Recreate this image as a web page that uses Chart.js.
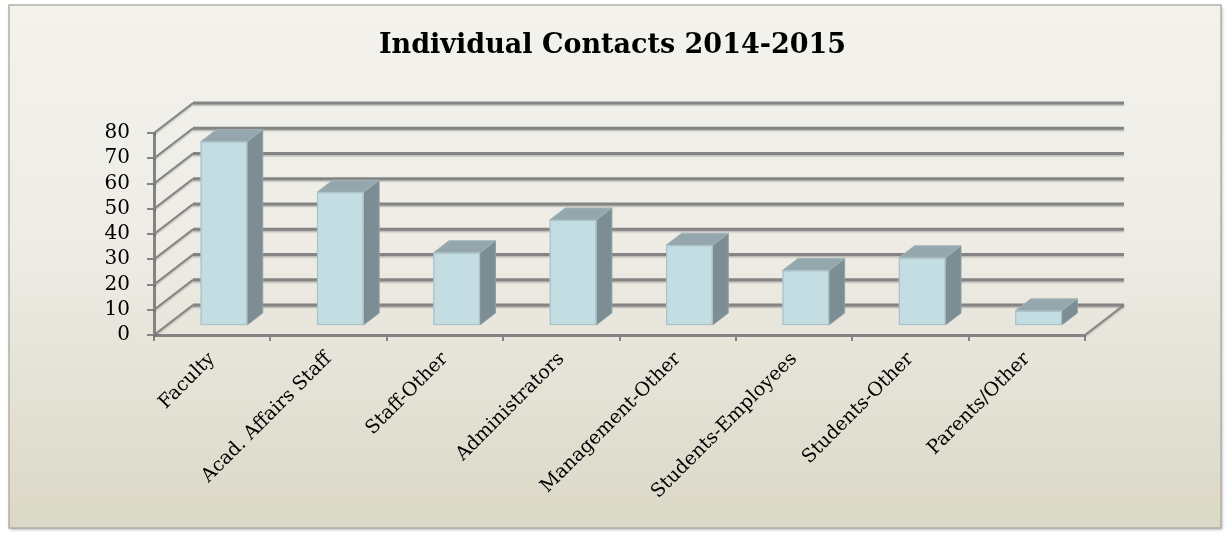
<!DOCTYPE html>
<html>
<head>
<meta charset="utf-8">
<script src="https://cdn.jsdelivr.net/npm/chart.js@4.4.1/dist/chart.umd.min.js"></script>
<style>
  html, body { margin: 0; padding: 0; background: #ffffff; }
  canvas { display: block; }
</style>
</head>
<body>
<canvas id="c" width="1225" height="533" style="width:1225px;height:533px"></canvas>
<script>
const categories = ["Faculty", "Acad. Affairs Staff", "Staff-Other", "Administrators", "Management-Other", "Students-Employees", "Students-Other", "Parents/Other"];
const contacts = [73, 53, 29, 42, 32, 22, 27, 6];
const yMin = 0;
const yMax = 80;
const yStep = 10;
const chartTitle = "Individual Contacts 2014-2015";

// 3D depth vector (px) and bar depth fractions
const DEPTH_X = 39, DEPTH_Y = -30;
const BAR_FRONT = 0.3, BAR_BACK = 0.7;
const GRID_COLOR = '#848484';

const framePlugin = {
  id: 'frame',
  beforeDraw(chart) {
    const ctx = chart.ctx;
    ctx.save();
    ctx.fillStyle = '#ffffff';
    ctx.fillRect(0, 0, chart.width, chart.height);
    const x0 = 9, y0 = 5, w = 1212, h = 523;
    ctx.shadowColor = 'rgba(0,0,0,0.35)';
    ctx.shadowBlur = 3;
    ctx.shadowOffsetX = 1;
    ctx.shadowOffsetY = 1.5;
    const g = ctx.createLinearGradient(0, y0, 0, y0 + h);
    g.addColorStop(0, '#f3f2ed');
    g.addColorStop(0.45, '#eeece5');
    g.addColorStop(1, '#dbd8c7');
    ctx.fillStyle = g;
    ctx.fillRect(x0, y0, w, h);
    ctx.shadowColor = 'transparent';
    ctx.strokeStyle = '#b3b1a5';
    ctx.lineWidth = 1.5;
    ctx.strokeRect(x0, y0, w, h);
    ctx.restore();
  }
};

const wallPlugin = {
  id: 'walls',
  beforeDatasetsDraw(chart) {
    const ctx = chart.ctx;
    const ys = chart.scales.y;
    const ca = chart.chartArea;
    ctx.save();
    ctx.lineCap = 'butt';
    ctx.shadowColor = 'rgba(0,0,0,0.22)';
    ctx.shadowBlur = 1.5;
    ctx.shadowOffsetY = 1.5;
    ctx.strokeStyle = GRID_COLOR;
    for (let v = yMin; v <= yMax; v += yStep) {
      const py = ys.getPixelForValue(v);
      ctx.lineWidth = 2;
      ctx.beginPath();
      ctx.moveTo(ca.left, py);
      ctx.lineTo(ca.left + DEPTH_X, py + DEPTH_Y);
      ctx.stroke();
      ctx.lineWidth = 3;
      ctx.beginPath();
      ctx.moveTo(ca.left + DEPTH_X, py + DEPTH_Y);
      ctx.lineTo(ca.right + DEPTH_X, py + DEPTH_Y);
      ctx.stroke();
    }
    const pb = ys.getPixelForValue(yMin);
    ctx.lineWidth = 2;
    ctx.beginPath();
    ctx.moveTo(ca.right, pb);
    ctx.lineTo(ca.right + DEPTH_X, pb + DEPTH_Y);
    ctx.stroke();
    ctx.restore();
  }
};

const bar3dPlugin = {
  id: 'bar3d',
  afterDatasetsDraw(chart) {
    const ctx = chart.ctx;
    const meta = chart.getDatasetMeta(0);
    const ox = DEPTH_X * BAR_FRONT, oy = DEPTH_Y * BAR_FRONT;
    const dx = DEPTH_X * (BAR_BACK - BAR_FRONT), dy = DEPTH_Y * (BAR_BACK - BAR_FRONT);
    ctx.save();
    meta.data.forEach(bar => {
      const p = bar.getProps(['x', 'y', 'base', 'width'], true);
      const l = p.x - p.width / 2 + ox, r = p.x + p.width / 2 + ox;
      const t = p.y + oy, b = p.base + oy;
      ctx.fillStyle = '#7c8d93';
      ctx.beginPath();
      ctx.moveTo(r, t); ctx.lineTo(r + dx, t + dy); ctx.lineTo(r + dx, b + dy); ctx.lineTo(r, b);
      ctx.closePath(); ctx.fill();
      ctx.strokeStyle = '#8fa0a5'; ctx.lineWidth = 1; ctx.stroke();
      ctx.fillStyle = '#94a7ad';
      ctx.beginPath();
      ctx.moveTo(l, t); ctx.lineTo(l + dx, t + dy); ctx.lineTo(r + dx, t + dy); ctx.lineTo(r, t);
      ctx.closePath(); ctx.fill();
      ctx.strokeStyle = '#a3b3b8'; ctx.stroke();
      ctx.fillStyle = '#c4dde3';
      ctx.fillRect(l, t, r - l, b - t);
      ctx.strokeStyle = '#a9c1c7'; ctx.lineWidth = 1.2;
      ctx.strokeRect(l + 0.5, t + 0.5, r - l - 1, b - t - 1);
    });
    ctx.restore();
  }
};

new Chart(document.getElementById('c'), {
  type: 'bar',
  data: {
    labels: categories,
    datasets: [{
      data: contacts,
      backgroundColor: 'rgba(0,0,0,0)',
      borderWidth: 0,
      categoryPercentage: 1.0,
      barPercentage: 0.4
    }]
  },
  options: {
    responsive: false,
    devicePixelRatio: 1,
    animation: false,
    layout: { padding: { left: 0, right: 0, top: 20, bottom: 28 } },
    plugins: {
      legend: { display: false },
      tooltip: { enabled: false },
      title: {
        display: true,
        text: chartTitle,
        color: '#000000',
        font: { family: 'DejaVu Serif', size: 27, weight: 'bold' },
        padding: { top: 9.3, bottom: 71.3 }
      }
    },
    scales: {
      x: {
        grid: { drawOnChartArea: false, drawTicks: true, tickLength: 6, color: GRID_COLOR, lineWidth: 2, offset: true },
        border: { display: true, color: GRID_COLOR, width: 3 },
        ticks: {
          color: '#000000',
          font: { family: 'DejaVu Serif', size: 19 },
          minRotation: 45,
          maxRotation: 45,
          autoSkip: false,
          padding: 7
        },
        afterFit(scale) { scale.height = 170; }
      },
      y: {
        min: yMin,
        max: yMax,
        grid: { drawOnChartArea: false, drawTicks: true, tickLength: 7, color: GRID_COLOR, lineWidth: 2 },
        border: { display: true, color: GRID_COLOR, width: 3 },
        ticks: {
          stepSize: yStep,
          autoSkip: false,
          color: '#000000',
          font: { family: 'DejaVu Serif', size: 20 },
          padding: 17
        },
        afterFit(scale) { scale.width = 154; }
      },
      spacer: {
        type: 'linear',
        position: 'right',
        display: true,
        grid: { display: false, drawTicks: false },
        border: { display: false },
        ticks: { display: false },
        afterFit(scale) { scale.width = 140; }
      }
    }
  },
  plugins: [framePlugin, wallPlugin, bar3dPlugin]
});
</script>
</body>
</html>
